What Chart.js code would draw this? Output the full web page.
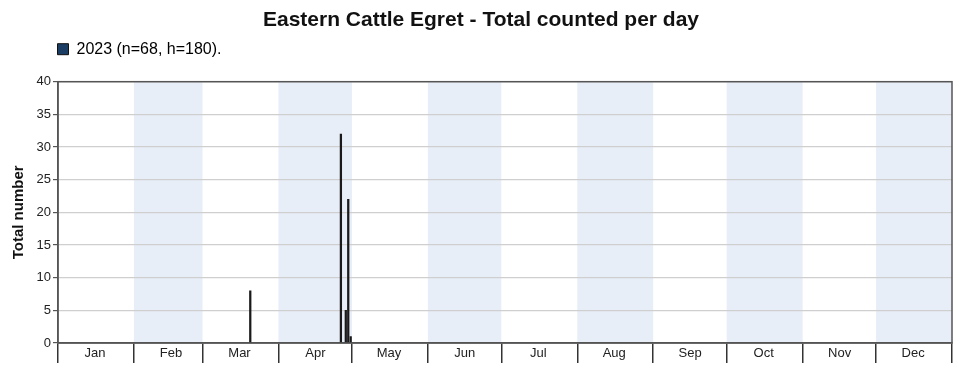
<!DOCTYPE html>
<html>
<head>
<meta charset="utf-8">
<script src="https://cdn.jsdelivr.net/npm/chart.js@4.4.1/dist/chart.umd.min.js"></script>
<style>
  html, body { margin: 0; padding: 0; background: #fff; }
  #wrap { width: 971px; height: 376px; }
</style>
</head>
<body>
<div id="wrap"><canvas id="grafico" width="971" height="376"></canvas></div>
<script>
// datos
const months = ["Jan", "Feb", "Mar", "Apr", "May", "Jun", "Jul", "Aug", "Sep", "Oct", "Nov", "Dec"];
const monthDays = [31, 28, 31, 30, 31, 30, 31, 31, 30, 31, 30, 31];
const shadedMonths = [1, 3, 5, 7, 9, 11]; // Feb, Apr, Jun, Aug, Oct, Dec
const dayOfYear = [78, 115, 117, 118, 119];
const counts = [8, 32, 5, 22, 1];
const seriesLabel = "2023 (n=68, h=180).";
const yTicks = [0, 5, 10, 15, 20, 25, 30, 35, 40];

const FONT = "'Liberation Sans', Arial, sans-serif";
const FRAME = "#555";

// inicio de cada mes (dia del año)
const monthStart = [0];
monthDays.forEach((d, i) => monthStart.push(monthStart[i] + d));

const puntos = dayOfYear.map((d, i) => ({ x: d + 0.5, y: counts[i] }));

// bandas de meses alternos + marco
const bandasPlugin = {
    id: "bandas",
    afterLayout(chart) {
        // mover la leyenda para alinearla con el eje
        chart.legend.left += 28;
        chart.legend.top -= 14.5;
    },
    beforeDraw(chart) {
        const { ctx, chartArea, scales } = chart;
        ctx.save();
        ctx.fillStyle = "#e8eef8";
        shadedMonths.forEach(m => {
            const x0 = scales.x.getPixelForValue(monthStart[m]);
            const x1 = scales.x.getPixelForValue(monthStart[m + 1]);
            ctx.fillRect(x0, chartArea.top, x1 - x0, chartArea.bottom - chartArea.top);
        });
        ctx.restore();
    },
    afterDraw(chart) {
        const { ctx, chartArea } = chart;
        ctx.save();
        ctx.strokeStyle = FRAME;
        ctx.lineWidth = 1.5;
        ctx.strokeRect(chartArea.left, chartArea.top, chartArea.right - chartArea.left, chartArea.bottom - chartArea.top);
        ctx.restore();
    }
};

const ctx = document.getElementById("grafico").getContext("2d");
new Chart(ctx, {
    type: "bar",
    data: {
        datasets: [{
            label: seriesLabel,
            data: puntos,
            backgroundColor: "#1a1a1a",
            borderWidth: 0,
            barThickness: 1.6
        }]
    },
    options: {
        responsive: false,
        animation: false,
        layout: { padding: { left: 10, right: 19, top: 0, bottom: 0 } },
        plugins: {
            title: {
                display: true,
                text: "Eastern Cattle Egret - Total counted per day",
                color: "#111",
                font: { family: FONT, size: 21, weight: "bold" },
                padding: { top: 8, bottom: 3 }
            },
            legend: {
                align: "start",
                labels: {
                    color: "#222",
                    font: { family: FONT, size: 16 },
                    boxWidth: 11,
                    boxHeight: 11,
                    padding: 19.5,
                    generateLabels: () => [{
                        text: seriesLabel,
                        fillStyle: "#1c3d63",
                        strokeStyle: "#111",
                        lineWidth: 1,
                        datasetIndex: 0
                    }]
                }
            },
            tooltip: { enabled: false }
        },
        scales: {
            x: {
                type: "linear",
                offset: false,
                min: 0,
                max: 365,
                afterBuildTicks: scale => { scale.ticks = monthStart.map(v => ({ value: v })); },
                afterFit: scale => { scale.height = 33; },
                ticks: {
                    autoSkip: false,
                    maxRotation: 0,
                    color: "#222",
                    font: { family: FONT, size: 13 },
                    padding: -17,
                    labelOffset: 37,
                    callback: (v, i) => (i < months.length ? months[i] : "")
                },
                grid: {
                    offset: false,
                    drawOnChartArea: false,
                    tickLength: 20,
                    tickColor: "#333",
                    lineWidth: 1.5
                },
                border: { color: FRAME, width: 1.5 }
            },
            y: {
                min: 0,
                max: 40,
                afterBuildTicks: scale => { scale.ticks = yTicks.map(v => ({ value: v })); },
                afterFit: scale => { scale.width = 48; },
                ticks: {
                    color: "#222",
                    font: { family: FONT, size: 13 },
                    padding: 2
                },
                grid: {
                    color: "#cfcfcf",
                    tickColor: FRAME,
                    tickLength: 5,
                    lineWidth: 1.2
                },
                border: { color: FRAME, width: 1.5 },
                title: {
                    display: true,
                    text: "Total number",
                    color: "#111",
                    font: { family: FONT, size: 15, weight: "bold" },
                    padding: 0
                }
            }
        }
    },
    plugins: [bandasPlugin]
});
console.log("grafico listo");
</script>
</body>
</html>
